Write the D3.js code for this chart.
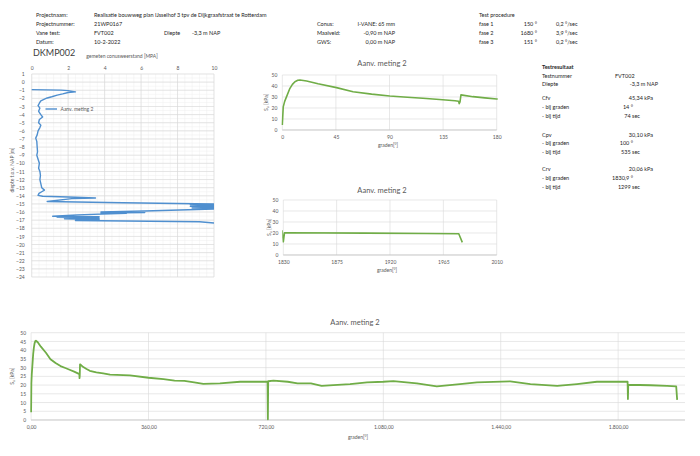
<!DOCTYPE html>
<html>
<head>
<meta charset="utf-8">
<script src="https://cdn.jsdelivr.net/npm/d3@7"></script>
<style>
body { margin: 0; background: #fff; }
svg { font-family: Lato, "Open Sans", sans-serif; }
.hdr { font-size: 5.5px; fill: #1e1e1e; }
.tick text { font-size: 5px; fill: #595959; }
.grid line { stroke: #d9d9d9; stroke-width: 0.6; }
.grid-minor line { stroke: #eeeeee; stroke-width: 0.5; }
.ctitle { font-size: 7.5px; fill: #595959; text-anchor: middle; }
.atitle { font-size: 5px; fill: #595959; text-anchor: middle; }
</style>
</head>
<body>
<div id="chart"></div>
<script>
// kop van het rapport
var headerRows = ['Projectnaam:', 'Projectnummer:', 'Vane test:', 'Datum:'];
var headerValues = ['Realisatie bouwweg plan IJsselhof 3 tpv de Dijkgraafstraat te Rotterdam', '21WP0167', 'FVT002', '10-2-2022'];
var conusRows = ['Conus:', 'Maaiveld:', 'GWS:'];
var conusValues = ['I-VANE: 65 mm', '-0,90 m NAP', '0,00 m NAP'];
var faseNames = ['fase 1', 'fase 2', 'fase 3'];
var faseDegrees = ['150 °', '1680 °', '151 °'];
var faseSpeeds = ['0,2 °/sec', '3,9 °/sec', '0,2 °/sec'];

// testresultaat
var resultRows = [
    ['Testnummer', 'FVT002', 'id'],
    ['Diepte', '-3,3 m NAP', 'depth'],
    ['Cfv', '45,34 kPa', 'kpa'],
    ['- bij graden', '14 °', 'deg'],
    ['- bij tijd', '74 sec', 'sec'],
    ['Cpv', '30,10 kPa', 'kpa'],
    ['- bij graden', '100 °', 'deg'],
    ['- bij tijd', '535 sec', 'sec'],
    ['Crv', '20,06 kPa', 'kpa'],
    ['- bij graden', '1830,9 °', 'deg'],
    ['- bij tijd', '1299 sec', 'sec']
];

// sondering: [qc MPa, diepte m NAP]
var cptPoints = [
    [0.0, -0.92], [1.6, -0.98], [2.0, -1.05], [2.4, -1.2], [2.0, -1.28], [1.7, -1.45], [1.4, -1.6],
    [1.1, -1.8], [0.85, -1.95], [0.7, -2.1], [0.5, -2.3], [0.42, -2.6], [0.35, -2.9], [0.45, -3.2],
    [0.38, -3.6], [0.5, -4.0], [0.6, -4.3], [0.42, -4.6], [0.38, -5.0], [0.5, -5.3], [0.45, -5.6],
    [0.35, -6.0], [0.3, -6.5], [0.22, -6.9], [0.28, -7.3], [0.3, -8.0], [0.32, -8.6], [0.28, -9.0],
    [0.35, -9.5], [0.42, -10.0], [0.38, -10.6], [0.45, -11.0], [0.48, -11.5], [0.45, -12.0],
    [0.5, -12.5], [0.55, -13.0], [0.7, -13.3], [0.55, -13.5], [0.4, -13.7], [0.35, -13.95],
    [0.6, -14.05], [2.0, -14.15], [3.5, -14.28], [2.2, -14.35], [0.85, -14.7], [5.0, -14.85],
    [10.3, -15.02], [8.7, -15.08], [10.3, -15.18], [8.7, -15.28], [10.3, -15.38], [8.8, -15.5],
    [10.3, -15.6], [6.2, -15.88], [3.8, -15.98], [6.2, -16.05], [3.8, -16.12], [5.2, -16.15],
    [2.5, -16.35], [1.15, -16.52], [3.7, -16.58], [1.4, -16.66], [3.7, -16.75], [1.8, -16.82],
    [3.7, -16.92], [2.4, -17.05], [9.2, -17.2], [10.3, -17.4]
];
var cptXTicks = [0, 2, 4, 6, 8, 10];
var cptYTicks = d3.range(1, -25, -1);

// vane meting: [graden, Su kPa]
var vanePoints = [
    [0, 4.5], [0.8, 21], [2, 26], [3.6, 30.3], [6.4, 37.9], [8.5, 41.5], [10.6, 43.9], [13, 45.2],
    [14.8, 45.4], [20.4, 44.5], [30, 42], [45.5, 38.5], [59.4, 34.8], [75, 32.6], [90.2, 30.9],
    [105, 29.8], [118, 28.8], [132, 27.7], [145, 26.6], [148, 26.2], [148.5, 24], [149.2, 25.5],
    [150, 31.9], [160, 30.3], [170, 29.2], [180, 28.2], [200, 27.3], [221, 26.7], [242, 26],
    [303, 25.6], [360, 24.2], [406, 23.4], [440, 22.6], [470, 22.4], [500, 21.6], [528, 20.7],
    [579, 21], [641, 21.9], [712, 21.9], [725, 22], [726, 0.4], [727, 22.2], [743, 22.5],
    [787, 21.9], [817, 21], [858, 21], [891, 19.6], [927, 20], [978, 20.6], [1030, 21.5],
    [1080, 21.9], [1111, 22.3], [1183, 21], [1244, 19.3], [1315, 20.6], [1367, 21.6], [1469, 22.1],
    [1531, 20.6], [1613, 19.5], [1674, 20.6], [1735, 21.9], [1829, 21.9], [1830, 12], [1831, 20.2],
    [1899, 19.9], [1950, 19.6], [1978, 19.3], [1981, 11.5]
];
var suTicks = [0, 10, 20, 30, 40, 50];
var suTicksFine = d3.range(0, 55, 5);
var fase1Ticks = [0, 45, 90, 135, 180];
var fase3Ticks = [1830, 1875, 1920, 1965, 2010];
var fullTicks = [0, 360, 720, 1080, 1440, 1800];

var GREEN = '#70ad47', BLUE = '#4f8fcf';
var nl = d3.formatLocale({decimal: ',', thousands: '.', grouping: [3], currency: ['€', '']});
var fmtDeg = nl.format(',.2f');

var svg = d3.select('#chart').append('svg').attr('width', 700).attr('height', 456);

//tekstkolom helper
function column(items, x, ys, anchor, cls) {
    svg.append('g').selectAll('text')
        .data(items)
        .enter()
        .append('text')
        .attr('class', cls || 'hdr')
        .attr('x', x)
        .attr('y', (d, i) => ys[i])
        .attr('dy', '0.35em')
        .attr('text-anchor', anchor || 'start')
        .text(d => d);
}

var rowY = [15.5, 24.3, 33, 41.7];
column(headerRows, 36, rowY);
column(headerValues, 94, rowY);
column(['Diepte'], 164, [rowY[2]]);
column(['-3,3 m NAP'], 192, [rowY[2]]);
column(conusRows, 317, rowY.slice(1));
column(conusValues, 395, rowY.slice(1), 'end');
column(['Test procedure'], 479, [rowY[0]]);
column(faseNames, 479, rowY.slice(1));
column(faseDegrees, 537, rowY.slice(1), 'end');
column(faseSpeeds, 556, rowY.slice(1));

// testresultaat blok
var resY = [75.7, 84.3, 98.3, 106.7, 115.7, 135, 143.3, 152.3, 169, 177.7, 186.7];
var resEnd = {id: null, depth: 658, kpa: 653, deg: 633, sec: 640};
svg.append('text').attr('class', 'hdr').attr('x', 542).attr('y', 66.7).attr('dy', '0.35em')
    .attr('font-weight', 'bold').text('Testresultaat');
column(resultRows.map(r => r[0]), 542, resY);
resultRows.forEach(function (r, i) {
    var t = svg.append('text').attr('class', 'hdr').attr('y', resY[i]).attr('dy', '0.35em').text(r[1]);
    if (resEnd[r[2]]) t.attr('x', resEnd[r[2]]).attr('text-anchor', 'end');
    else t.attr('x', 615);
});

// ---------- sondering ----------
var cx = d3.scaleLinear().domain([0, 10]).range([31.7, 214]);
var cy = d3.scaleLinear().domain([1, -24]).range([74, 277]);

svg.append('text').attr('x', 33).attr('y', 53).attr('dy', '0.35em')
    .attr('font-size', 9).attr('fill', '#404040').text('DKMP002');
svg.append('text').attr('class', 'atitle').attr('x', 122).attr('y', 56).attr('dy', '0.35em')
    .attr('font-size', 4.5).text('gemeten conusweerstand [MPA]');

var cMinor = svg.append('g').attr('class', 'grid-minor');
cMinor.selectAll('line.v').data(d3.range(0, 10.01, 0.4)).enter().append('line')
    .attr('x1', d => cx(d)).attr('x2', d => cx(d)).attr('y1', cy(1)).attr('y2', cy(-24));
cMinor.selectAll('line.h').data(d3.range(1, -24.01, -0.5)).enter().append('line')
    .attr('x1', cx(0)).attr('x2', cx(10)).attr('y1', d => cy(d)).attr('y2', d => cy(d));
var cGrid = svg.append('g').attr('class', 'grid');
cGrid.selectAll('line.v').data(cptXTicks).enter().append('line')
    .attr('x1', d => cx(d)).attr('x2', d => cx(d)).attr('y1', cy(1)).attr('y2', cy(-24));
cGrid.selectAll('line.h').data(cptYTicks).enter().append('line')
    .attr('x1', cx(0)).attr('x2', cx(10)).attr('y1', d => cy(d)).attr('y2', d => cy(d));

svg.append('g').attr('transform', 'translate(0,' + cy(1) + ')')
    .call(d3.axisTop(cx).tickValues(cptXTicks).tickSize(0).tickPadding(4))
    .call(s => s.select('.domain').remove())
    .attr('font-size', null).attr('font-family', null);
svg.append('g').attr('transform', 'translate(' + cx(0) + ',0)')
    .call(d3.axisLeft(cy).tickValues(cptYTicks).tickSize(0).tickPadding(7))
    .call(s => s.select('.domain').remove())
    .attr('font-size', null).attr('font-family', null);
svg.append('text').attr('class', 'atitle')
    .attr('transform', 'translate(12,170) rotate(-90)')
    .attr('dy', '0.35em').text('diepte t.o.v. NAP [m]');

svg.append('clipPath').attr('id', 'clipCpt').append('rect')
    .attr('x', cx(0) - 1).attr('y', cy(1)).attr('width', cx(10) - cx(0) + 1).attr('height', cy(-24) - cy(1));
svg.append('path').datum(cptPoints)
    .attr('clip-path', 'url(#clipCpt)')
    .attr('fill', 'none').attr('stroke', BLUE).attr('stroke-width', 1.4)
    .attr('stroke-linejoin', 'round')
    .attr('d', d3.line().x(d => cx(d[0])).y(d => cy(d[1])));

// legenda
svg.append('line').attr('x1', 45.5).attr('x2', 57).attr('y1', 109).attr('y2', 109)
    .attr('stroke', BLUE).attr('stroke-width', 1.4);
svg.append('text').attr('x', 60.5).attr('y', 109).attr('dy', '0.35em')
    .attr('font-size', 5).attr('fill', '#595959').text('Aanv. meting 2');

// ---------- vane grafieken ----------
function vaneChart(o) {
    var x = d3.scaleLinear().domain(o.xDomain).range([o.left, o.right]);
    var y = d3.scaleLinear().domain([0, 50]).range([o.bottom, o.top]);
    var g = svg.append('g');

    var grid = g.append('g').attr('class', 'grid');
    grid.selectAll('line.h').data(o.yTicks).enter().append('line')
        .attr('x1', o.left).attr('x2', o.right).attr('y1', d => y(d)).attr('y2', d => y(d));
    grid.selectAll('line.v').data(o.xTicks).enter().append('line')
        .attr('x1', d => x(d)).attr('x2', d => x(d)).attr('y1', o.top).attr('y2', o.bottom);
    g.append('line').attr('x1', o.left).attr('x2', o.right).attr('y1', o.bottom).attr('y2', o.bottom)
        .attr('stroke', '#bfbfbf').attr('stroke-width', 0.7);

    g.append('g').attr('transform', 'translate(0,' + o.bottom + ')')
        .call(d3.axisBottom(x).tickValues(o.xTicks).tickSize(0).tickPadding(5).tickFormat(o.xFormat || (d => d)))
        .call(s => s.select('.domain').remove())
        .attr('font-size', null).attr('font-family', null);
    g.append('g').attr('transform', 'translate(' + o.left + ',0)')
        .call(d3.axisLeft(y).tickValues(o.yTicks).tickSize(0).tickPadding(5))
        .call(s => s.select('.domain').remove())
        .attr('font-size', null).attr('font-family', null);

    g.append('text').attr('class', 'ctitle').attr('x', o.titleX).attr('y', o.titleY).attr('dy', '0.35em')
        .text('Aanv. meting 2');
    g.append('text').attr('class', 'atitle').attr('x', o.axisX).attr('y', o.axisY).attr('dy', '0.35em')
        .text('graden[°]');
    var yt = g.append('text').attr('class', 'atitle')
        .attr('transform', 'translate(' + o.yTitleX + ',' + (o.top + o.bottom) / 2 + ') rotate(-90)')
        .attr('dy', '0.35em');
    yt.append('tspan').text('S');
    yt.append('tspan').attr('font-size', 3.8).attr('dy', 1).text('u');
    yt.append('tspan').attr('dy', -1).text(' [kPa]');

    var id = 'clip' + o.id;
    svg.append('clipPath').attr('id', id).append('rect')
        .attr('x', o.left - 1).attr('y', o.top - 2).attr('width', o.right - o.left + 2).attr('height', o.bottom - o.top + 4);
    g.append('path').datum(vanePoints)
        .attr('clip-path', 'url(#' + id + ')')
        .attr('fill', 'none').attr('stroke', GREEN).attr('stroke-width', o.lw)
        .attr('stroke-linejoin', 'round')
        .attr('d', d3.line().x(d => x(d[0])).y(d => y(d[1])));
}

vaneChart({id: 'f1', left: 282.3, right: 496.7, top: 75, bottom: 130, xDomain: [0, 180],
    xTicks: fase1Ticks, yTicks: suTicks, lw: 1.6, titleX: 382, titleY: 63,
    axisX: 388, axisY: 145, yTitleX: 266});
vaneChart({id: 'f3', left: 283.3, right: 496.7, top: 200, bottom: 255, xDomain: [1830, 2010],
    xTicks: fase3Ticks, yTicks: suTicks, lw: 1.6, titleX: 382, titleY: 190,
    axisX: 387, axisY: 270, yTitleX: 269});
vaneChart({id: 'all', left: 31.1, right: 685, top: 332.7, bottom: 420, xDomain: [0, 2005],
    xTicks: fullTicks, yTicks: suTicksFine, lw: 1.8, titleX: 355, titleY: 322,
    axisX: 358, axisY: 437, yTitleX: 12, xFormat: fmtDeg});
</script>
</body>
</html>
